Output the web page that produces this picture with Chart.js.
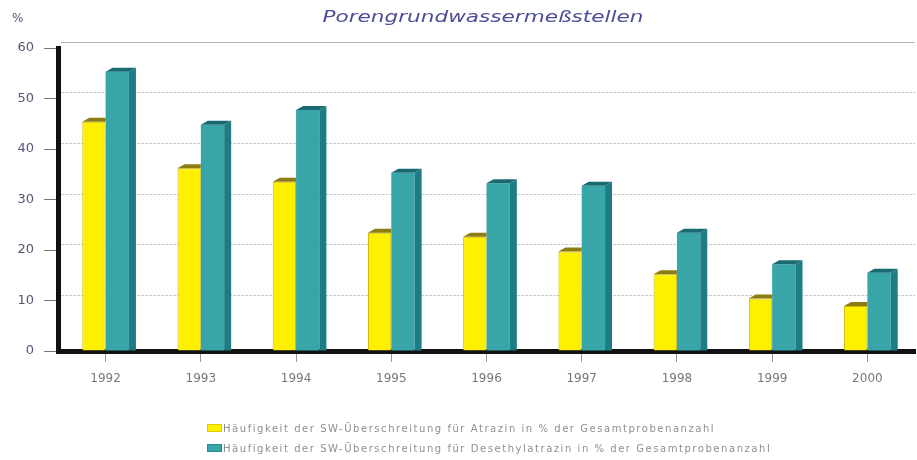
<!DOCTYPE html>
<html>
<head>
<meta charset="utf-8">
<script src="https://cdn.jsdelivr.net/npm/chart.js@4"></script>
<style>
  html, body { margin: 0; padding: 0; background: #fff; }
  #wrap { position: relative; width: 917px; height: 460px; }
  #legend { position: absolute; left: 207px; top: 418px; font-family: "DejaVu Sans", sans-serif; font-size: 10px; letter-spacing: 1.55px; color: #8f8f8f; }
  .row { display: flex; align-items: center; height: 20px; white-space: nowrap; }
  .box { width: 15px; height: 8px; margin-right: 1px; box-sizing: border-box; border: 1px solid rgba(0,0,0,0.15); }
</style>
</head>
<body>
<div id="wrap">
  <canvas id="c" width="917" height="460"></canvas>
  <div id="legend"></div>
</div>
<script>
const years = ["1992", "1993", "1994", "1995", "1996", "1997", "1998", "1999", "2000"];
const atrazin = [45.4, 36.2, 33.5, 23.4, 22.6, 19.7, 15.2, 10.4, 8.9];
const desethylatrazin = [55.3, 44.8, 47.7, 35.3, 33.2, 32.7, 23.4, 17.2, 15.5];
const yTicks = [0, 10, 20, 30, 40, 50, 60];
const seriesLabels = [
  "Häufigkeit der SW-Überschreitung für Atrazin in % der Gesamtprobenanzahl",
  "Häufigkeit der SW-Überschreitung für Desethylatrazin in % der Gesamtprobenanzahl"
];
const titleText = "Porengrundwassermeßstellen";
const unitText = "%";

const front = ["#fff000", "#38a6a9"];
const side = ["#c8b400", "#1d7c84"];
const cap = ["#8d7c12", "#1b6a72"];

const deco = {
  id: "deco",
  beforeDatasetsDraw(chart) {
    const ctx = chart.ctx, y = chart.scales.y, a = chart.chartArea;
    ctx.save();
    yTicks.forEach(v => {
      if (v === 0) return;
      const py = Math.round(y.getPixelForValue(v)) - 5.5;
      ctx.strokeStyle = v === 60 ? "#b5b5b5" : "#cccccc";
      ctx.lineWidth = 1;
      ctx.setLineDash(v === 60 ? [] : [3, 1]);
      ctx.beginPath();
      ctx.moveTo(a.left + 3, py);
      ctx.lineTo(a.right, py);
      ctx.stroke();
    });
    ctx.restore();
  },
  afterDatasetDraw(chart, args) {
    const ctx = chart.ctx;
    const i = args.index;
    const d = 7, dy = 4;
    ctx.save();
    args.meta.data.forEach(el => {
      const p = el.getProps(["x", "y", "base", "width"], true);
      const l = p.x - p.width / 2, r = p.x + p.width / 2;
      if (i === 1) {
        ctx.fillStyle = side[i];
        ctx.beginPath();
        ctx.moveTo(r, p.y);
        ctx.lineTo(r + d, p.y - dy);
        ctx.lineTo(r + d, p.base);
        ctx.lineTo(r, p.base);
        ctx.closePath();
        ctx.fill();
      }
      ctx.fillStyle = cap[i];
      ctx.beginPath();
      ctx.moveTo(l, p.y);
      ctx.lineTo(l + d, p.y - dy);
      ctx.lineTo(i === 1 ? r + d : r, p.y - dy);
      ctx.lineTo(r, p.y);
      ctx.closePath();
      ctx.fill();
    });
    ctx.restore();
  },
  afterDraw(chart) {
    const ctx = chart.ctx;
    ctx.save();
    ctx.font = "12px 'DejaVu Sans', sans-serif";
    ctx.fillStyle = "#55557a";
    ctx.textAlign = "left";
    ctx.textBaseline = "middle";
    ctx.fillText(unitText, 12, 19);
    ctx.font = "italic 16px 'DejaVu Sans', sans-serif";
    ctx.fillStyle = "#4d4d99";
    ctx.textAlign = "center";
    ctx.textBaseline = "alphabetic";
    const w = ctx.measureText(titleText).width;
    ctx.translate(483, 22);
    ctx.scale(321 / w, 1);
    ctx.fillText(titleText, 0, 0);
    ctx.restore();
  }
};

new Chart(document.getElementById("c"), {
  type: "bar",
  data: {
    labels: years,
    datasets: [
      { label: seriesLabels[0], data: atrazin, backgroundColor: front[0], borderColor: "#c9b800", borderWidth: 1 },
      { label: seriesLabels[1], data: desethylatrazin, backgroundColor: front[1], borderWidth: 0 }
    ]
  },
  plugins: [deco],
  options: {
    responsive: false,
    animation: false,
    layout: { padding: { left: 0, right: 2, top: 48, bottom: 0 } },
    datasets: { bar: { barPercentage: 1.0, categoryPercentage: 0.49 } },
    plugins: {
      legend: { display: false },
      tooltip: { enabled: false },
      title: { display: false }
    },
    scales: {
      x: {
        afterFit: s => { s.height = 109; },
        grid: { display: true, drawOnChartArea: false, offset: false, tickLength: 11, color: "#9a9a9a", lineWidth: 1 },
        border: { display: true, color: "#111", width: 5 },
        ticks: { color: "#777", font: { family: "'DejaVu Sans', sans-serif", size: 12 }, padding: 10, maxRotation: 0 }
      },
      y: {
        min: 0, max: 60,
        afterBuildTicks: s => { s.ticks = yTicks.map(v => ({ value: v })); },
        afterFit: s => { s.width = 58; },
        grid: { drawOnChartArea: false, tickColor: "#777", tickLength: 14, lineWidth: 1 },
        border: { display: true, color: "#111", width: 5 },
        ticks: { color: "#55557a", font: { family: "'DejaVu Sans', sans-serif", size: 13 }, padding: 10 }
      }
    }
  }
});

const leg = document.getElementById("legend");
seriesLabels.forEach((t, i) => {
  const row = document.createElement("div");
  row.className = "row";
  const b = document.createElement("span");
  b.className = "box";
  b.style.background = front[i];
  const s = document.createElement("span");
  s.textContent = t;
  row.appendChild(b);
  row.appendChild(s);
  leg.appendChild(row);
});
</script>
</body>
</html>
